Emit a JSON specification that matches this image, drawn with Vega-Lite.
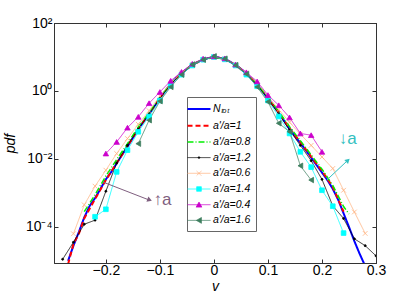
{
"$schema": "https://vega.github.io/schema/vega-lite/v6.json",
"width": 322, "height": 240, "autosize": "none",
"padding": {"left": 54, "top": 23, "right": 39, "bottom": 32},
"config": {
  "font": "Liberation Sans",
  "view": {"stroke": "#333"},
  "axis": {"labelFont": "Liberation Sans", "labelFontSize": 14, "labelColor": "#000", "titleFont": "Liberation Sans", "titleFontSize": 14, "titleFontStyle": "italic", "titleFontWeight": "normal", "titleColor": "#000", "domainColor": "#333", "tickColor": "#333", "grid": false, "tickSize": -4, "labelFlush": false, "labelOverlap": false}
},
"resolve": {"axis": {"x": "independent", "y": "independent"}},
"datasets": {"curves": [
{"series":"Nₜₒₜ","v":-0.27,"pdf":1e-5},{"series":"Nₜₒₜ","v":-0.26,"pdf":2.818e-5},{"series":"Nₜₒₜ","v":-0.25,"pdf":7.079e-5},{"series":"Nₜₒₜ","v":-0.24,"pdf":1.905e-4},{"series":"Nₜₒₜ","v":-0.23,"pdf":4.169e-4},{"series":"Nₜₒₜ","v":-0.22,"pdf":7.079e-4},{"series":"Nₜₒₜ","v":-0.21,"pdf":1.318e-3},{"series":"Nₜₒₜ","v":-0.2,"pdf":2.512e-3},{"series":"Nₜₒₜ","v":-0.19,"pdf":4.169e-3},{"series":"Nₜₒₜ","v":-0.18,"pdf":7.413e-3},{"series":"Nₜₒₜ","v":-0.17,"pdf":0.01318},{"series":"Nₜₒₜ","v":-0.16,"pdf":0.02291},{"series":"Nₜₒₜ","v":-0.15,"pdf":0.04169},{"series":"Nₜₒₜ","v":-0.14,"pdf":0.07586},{"series":"Nₜₒₜ","v":-0.13,"pdf":0.1259},{"series":"Nₜₒₜ","v":-0.12,"pdf":0.2089},{"series":"Nₜₒₜ","v":-0.11,"pdf":0.3548},{"series":"Nₜₒₜ","v":-0.1,"pdf":0.6026},{"series":"Nₜₒₜ","v":-0.09,"pdf":1.0},{"series":"Nₜₒₜ","v":-0.08,"pdf":1.585},{"series":"Nₜₒₜ","v":-0.07,"pdf":2.399},{"series":"Nₜₒₜ","v":-0.06,"pdf":3.311},{"series":"Nₜₒₜ","v":-0.05,"pdf":4.467},{"series":"Nₜₒₜ","v":-0.04,"pdf":5.754},{"series":"Nₜₒₜ","v":-0.03,"pdf":7.079},{"series":"Nₜₒₜ","v":-0.02,"pdf":8.318},{"series":"Nₜₒₜ","v":-0.01,"pdf":9.333},{"series":"Nₜₒₜ","v":0,"pdf":10},{"series":"Nₜₒₜ","v":0.01,"pdf":9.55},{"series":"Nₜₒₜ","v":0.02,"pdf":8.71},{"series":"Nₜₒₜ","v":0.03,"pdf":7.244},{"series":"Nₜₒₜ","v":0.04,"pdf":5.888},{"series":"Nₜₒₜ","v":0.05,"pdf":4.467},{"series":"Nₜₒₜ","v":0.06,"pdf":3.236},{"series":"Nₜₒₜ","v":0.07,"pdf":2.291},{"series":"Nₜₒₜ","v":0.08,"pdf":1.549},{"series":"Nₜₒₜ","v":0.09,"pdf":0.9772},{"series":"Nₜₒₜ","v":0.1,"pdf":0.6026},{"series":"Nₜₒₜ","v":0.11,"pdf":0.3715},{"series":"Nₜₒₜ","v":0.12,"pdf":0.2291},{"series":"Nₜₒₜ","v":0.13,"pdf":0.1318},{"series":"Nₜₒₜ","v":0.14,"pdf":0.07586},{"series":"Nₜₒₜ","v":0.15,"pdf":0.04677},{"series":"Nₜₒₜ","v":0.16,"pdf":0.02951},{"series":"Nₜₒₜ","v":0.17,"pdf":0.0182},{"series":"Nₜₒₜ","v":0.18,"pdf":0.01096},{"series":"Nₜₒₜ","v":0.19,"pdf":6.607e-3},{"series":"Nₜₒₜ","v":0.2,"pdf":3.981e-3},{"series":"Nₜₒₜ","v":0.21,"pdf":2.399e-3},{"series":"Nₜₒₜ","v":0.22,"pdf":1.318e-3},{"series":"Nₜₒₜ","v":0.23,"pdf":6.31e-4},{"series":"Nₜₒₜ","v":0.24,"pdf":2.512e-4},{"series":"Nₜₒₜ","v":0.25,"pdf":1e-4},{"series":"Nₜₒₜ","v":0.26,"pdf":3.802e-5},{"series":"Nₜₒₜ","v":0.27,"pdf":1.585e-5},{"series":"Nₜₒₜ","v":0.28,"pdf":7.079e-6},
{"series":"a'/a=1","v":-0.27,"pdf":7.943e-6},{"series":"a'/a=1","v":-0.26,"pdf":3.162e-5},{"series":"a'/a=1","v":-0.25,"pdf":6.31e-5},{"series":"a'/a=1","v":-0.24,"pdf":1.778e-4},{"series":"a'/a=1","v":-0.22,"pdf":6.607e-4},{"series":"a'/a=1","v":-0.2,"pdf":2.399e-3},{"series":"a'/a=1","v":-0.18,"pdf":7.586e-3},{"series":"a'/a=1","v":-0.16,"pdf":0.02344},{"series":"a'/a=1","v":-0.14,"pdf":0.07762},{"series":"a'/a=1","v":-0.12,"pdf":0.2138},{"series":"a'/a=1","v":-0.1,"pdf":0.6166},{"series":"a'/a=1","v":-0.08,"pdf":1.585},{"series":"a'/a=1","v":-0.06,"pdf":3.311},{"series":"a'/a=1","v":-0.04,"pdf":5.888},{"series":"a'/a=1","v":-0.02,"pdf":8.318},{"series":"a'/a=1","v":0,"pdf":10},{"series":"a'/a=1","v":0.02,"pdf":8.71},{"series":"a'/a=1","v":0.04,"pdf":5.888},{"series":"a'/a=1","v":0.06,"pdf":3.236},{"series":"a'/a=1","v":0.08,"pdf":1.549},{"series":"a'/a=1","v":0.1,"pdf":0.6026},{"series":"a'/a=1","v":0.12,"pdf":0.2344},{"series":"a'/a=1","v":0.14,"pdf":0.07943},{"series":"a'/a=1","v":0.16,"pdf":0.03162},{"series":"a'/a=1","v":0.18,"pdf":0.01175},{"series":"a'/a=1","v":0.2,"pdf":4.467e-3},{"series":"a'/a=1","v":0.22,"pdf":1.514e-3},{"series":"a'/a=1","v":0.24,"pdf":2.818e-4},
{"series":"a'/a=0.8","v":-0.24,"pdf":2.818e-4},{"series":"a'/a=0.8","v":-0.22,"pdf":8.913e-4},{"series":"a'/a=0.8","v":-0.2,"pdf":3.162e-3},{"series":"a'/a=0.8","v":-0.18,"pdf":9.55e-3},{"series":"a'/a=0.8","v":-0.16,"pdf":0.02818},{"series":"a'/a=0.8","v":-0.14,"pdf":0.0871},{"series":"a'/a=0.8","v":-0.12,"pdf":0.2291},{"series":"a'/a=0.8","v":-0.1,"pdf":0.6457},{"series":"a'/a=0.8","v":-0.08,"pdf":1.66},{"series":"a'/a=0.8","v":-0.06,"pdf":3.388},{"series":"a'/a=0.8","v":-0.04,"pdf":6.026},{"series":"a'/a=0.8","v":-0.02,"pdf":8.511},{"series":"a'/a=0.8","v":0,"pdf":10},{"series":"a'/a=0.8","v":0.02,"pdf":8.71},{"series":"a'/a=0.8","v":0.04,"pdf":6.026},{"series":"a'/a=0.8","v":0.06,"pdf":3.311},{"series":"a'/a=0.8","v":0.08,"pdf":1.622},{"series":"a'/a=0.8","v":0.1,"pdf":0.631},{"series":"a'/a=0.8","v":0.12,"pdf":0.2512},{"series":"a'/a=0.8","v":0.14,"pdf":0.08913},{"series":"a'/a=0.8","v":0.16,"pdf":0.03467},{"series":"a'/a=0.8","v":0.18,"pdf":0.01318},{"series":"a'/a=0.8","v":0.2,"pdf":5.012e-3},{"series":"a'/a=0.8","v":0.22,"pdf":1.66e-3},{"series":"a'/a=0.8","v":0.24,"pdf":3.981e-4},{"series":"a'/a=0.8","v":0.25,"pdf":2.399e-4},
{"series":"a'/a=1.2","v":-0.28,"pdf":1.122e-5},{"series":"a'/a=1.2","v":-0.26,"pdf":3.548e-5},{"series":"a'/a=1.2","v":-0.24,"pdf":1.202e-4},{"series":"a'/a=1.2","v":-0.22,"pdf":1.585e-4},{"series":"a'/a=1.2","v":-0.2,"pdf":1.122e-3},{"series":"a'/a=1.2","v":-0.18,"pdf":7.586e-3},{"series":"a'/a=1.2","v":-0.16,"pdf":0.02512},{"series":"a'/a=1.2","v":-0.14,"pdf":0.07586},{"series":"a'/a=1.2","v":-0.12,"pdf":0.2089},{"series":"a'/a=1.2","v":-0.1,"pdf":0.6026},{"series":"a'/a=1.2","v":-0.08,"pdf":1.585},{"series":"a'/a=1.2","v":-0.06,"pdf":3.236},{"series":"a'/a=1.2","v":-0.04,"pdf":5.754},{"series":"a'/a=1.2","v":-0.02,"pdf":8.318},{"series":"a'/a=1.2","v":0,"pdf":10},{"series":"a'/a=1.2","v":0.02,"pdf":8.71},{"series":"a'/a=1.2","v":0.04,"pdf":5.754},{"series":"a'/a=1.2","v":0.06,"pdf":3.162},{"series":"a'/a=1.2","v":0.08,"pdf":1.514},{"series":"a'/a=1.2","v":0.1,"pdf":0.5754},{"series":"a'/a=1.2","v":0.12,"pdf":0.2089},{"series":"a'/a=1.2","v":0.14,"pdf":0.07079},{"series":"a'/a=1.2","v":0.16,"pdf":0.02512},{"series":"a'/a=1.2","v":0.18,"pdf":8.913e-3},{"series":"a'/a=1.2","v":0.2,"pdf":2.512e-3},{"series":"a'/a=1.2","v":0.22,"pdf":4.169e-4},{"series":"a'/a=1.2","v":0.24,"pdf":1.778e-4},{"series":"a'/a=1.2","v":0.26,"pdf":4.467e-5},{"series":"a'/a=1.2","v":0.28,"pdf":2.818e-5},{"series":"a'/a=1.2","v":0.3,"pdf":1.413e-5},
{"series":"a'/a=0.6","v":-0.26,"pdf":6.31e-5},{"series":"a'/a=0.6","v":-0.24,"pdf":4.467e-4},{"series":"a'/a=0.6","v":-0.22,"pdf":1.585e-3},{"series":"a'/a=0.6","v":-0.2,"pdf":4.677e-3},{"series":"a'/a=0.6","v":-0.18,"pdf":0.01445},{"series":"a'/a=0.6","v":-0.16,"pdf":0.03981},{"series":"a'/a=0.6","v":-0.14,"pdf":0.1047},{"series":"a'/a=0.6","v":-0.12,"pdf":0.263},{"series":"a'/a=0.6","v":-0.1,"pdf":0.7079},{"series":"a'/a=0.6","v":-0.08,"pdf":1.698},{"series":"a'/a=0.6","v":-0.06,"pdf":3.388},{"series":"a'/a=0.6","v":-0.04,"pdf":6.026},{"series":"a'/a=0.6","v":-0.02,"pdf":8.511},{"series":"a'/a=0.6","v":0,"pdf":10},{"series":"a'/a=0.6","v":0.02,"pdf":8.913},{"series":"a'/a=0.6","v":0.04,"pdf":6.026},{"series":"a'/a=0.6","v":0.06,"pdf":3.388},{"series":"a'/a=0.6","v":0.08,"pdf":1.698},{"series":"a'/a=0.6","v":0.1,"pdf":0.7079},{"series":"a'/a=0.6","v":0.12,"pdf":0.2818},{"series":"a'/a=0.6","v":0.14,"pdf":0.1202},{"series":"a'/a=0.6","v":0.16,"pdf":0.0537},{"series":"a'/a=0.6","v":0.18,"pdf":0.02512},{"series":"a'/a=0.6","v":0.2,"pdf":0.01148},{"series":"a'/a=0.6","v":0.22,"pdf":5.248e-3},{"series":"a'/a=0.6","v":0.24,"pdf":1.202e-3},{"series":"a'/a=0.6","v":0.26,"pdf":2.754e-4},{"series":"a'/a=0.6","v":0.28,"pdf":6.457e-5},
{"series":"a'/a=1.4","v":-0.22,"pdf":1.995e-4},{"series":"a'/a=1.4","v":-0.2,"pdf":3.311e-4},{"series":"a'/a=1.4","v":-0.18,"pdf":4.169e-3},{"series":"a'/a=1.4","v":-0.16,"pdf":0.0182},{"series":"a'/a=1.4","v":-0.14,"pdf":0.0631},{"series":"a'/a=1.4","v":-0.12,"pdf":0.1778},{"series":"a'/a=1.4","v":-0.1,"pdf":0.5248},{"series":"a'/a=1.4","v":-0.08,"pdf":1.413},{"series":"a'/a=1.4","v":-0.06,"pdf":3.02},{"series":"a'/a=1.4","v":-0.04,"pdf":5.623},{"series":"a'/a=1.4","v":-0.02,"pdf":8.318},{"series":"a'/a=1.4","v":0,"pdf":10},{"series":"a'/a=1.4","v":0.02,"pdf":8.511},{"series":"a'/a=1.4","v":0.04,"pdf":5.623},{"series":"a'/a=1.4","v":0.06,"pdf":3.02},{"series":"a'/a=1.4","v":0.08,"pdf":1.38},{"series":"a'/a=1.4","v":0.1,"pdf":0.5248},{"series":"a'/a=1.4","v":0.12,"pdf":0.1778},{"series":"a'/a=1.4","v":0.14,"pdf":0.05623},{"series":"a'/a=1.4","v":0.16,"pdf":0.01622},{"series":"a'/a=1.4","v":0.18,"pdf":5.754e-3},{"series":"a'/a=1.4","v":0.2,"pdf":1.202e-3},{"series":"a'/a=1.4","v":0.22,"pdf":4.074e-4},{"series":"a'/a=1.4","v":0.24,"pdf":6.607e-5},
{"series":"a'/a=0.4","v":-0.2,"pdf":0.01445},{"series":"a'/a=0.4","v":-0.18,"pdf":0.03162},{"series":"a'/a=0.4","v":-0.16,"pdf":0.08318},{"series":"a'/a=0.4","v":-0.14,"pdf":0.1738},{"series":"a'/a=0.4","v":-0.12,"pdf":0.4365},{"series":"a'/a=0.4","v":-0.1,"pdf":0.9333},{"series":"a'/a=0.4","v":-0.08,"pdf":1.995},{"series":"a'/a=0.4","v":-0.06,"pdf":3.631},{"series":"a'/a=0.4","v":-0.04,"pdf":6.31},{"series":"a'/a=0.4","v":-0.02,"pdf":8.913},{"series":"a'/a=0.4","v":0,"pdf":10.47},{"series":"a'/a=0.4","v":0.02,"pdf":9.12},{"series":"a'/a=0.4","v":0.04,"pdf":6.026},{"series":"a'/a=0.4","v":0.06,"pdf":3.548},{"series":"a'/a=0.4","v":0.08,"pdf":1.905},{"series":"a'/a=0.4","v":0.1,"pdf":0.7586},{"series":"a'/a=0.4","v":0.12,"pdf":0.3802},{"series":"a'/a=0.4","v":0.14,"pdf":0.166},{"series":"a'/a=0.4","v":0.16,"pdf":0.05623},{"series":"a'/a=0.4","v":0.18,"pdf":0.05012},{"series":"a'/a=0.4","v":0.2,"pdf":0.01622},
{"series":"a'/a=1.6","v":-0.14,"pdf":0.02818},{"series":"a'/a=1.6","v":-0.12,"pdf":0.138},{"series":"a'/a=1.6","v":-0.1,"pdf":0.5012},{"series":"a'/a=1.6","v":-0.08,"pdf":1.318},{"series":"a'/a=1.6","v":-0.06,"pdf":3.02},{"series":"a'/a=1.6","v":-0.04,"pdf":6.026},{"series":"a'/a=1.6","v":-0.02,"pdf":8.318},{"series":"a'/a=1.6","v":0,"pdf":10.47},{"series":"a'/a=1.6","v":0.02,"pdf":8.913},{"series":"a'/a=1.6","v":0.04,"pdf":5.754},{"series":"a'/a=1.6","v":0.06,"pdf":3.162},{"series":"a'/a=1.6","v":0.08,"pdf":1.318},{"series":"a'/a=1.6","v":0.1,"pdf":0.4786},{"series":"a'/a=1.6","v":0.12,"pdf":0.1122},{"series":"a'/a=1.6","v":0.14,"pdf":0.0631},{"series":"a'/a=1.6","v":0.16,"pdf":6.31e-3},{"series":"a'/a=1.6","v":0.18,"pdf":2.399e-3}
]},
"layer": [
  {
    "data": {"name": "curves"},
    "mark": {"type": "line", "clip": true},
    "encoding": {
      "x": {"field": "v", "type": "quantitative", "scale": {"domain": [-0.296, 0.3], "nice": false, "zero": false},
            "axis": {"orient": "bottom", "values": [-0.2, -0.1, 0, 0.1, 0.2, 0.3], "format": "~g", "title": "v", "labelPadding": 4, "titlePadding": 2}},
      "y": {"field": "pdf", "type": "quantitative", "scale": {"type": "log", "domain": [8.7e-6, 100], "nice": false},
            "axis": {"orient": "left", "values": [0.0001, 0.01, 1, 100], "title": "pdf", "labelPadding": 6, "titlePadding": 8,
                     "labelExpr": "datum.value >= 50 ? '10²' : datum.value >= 0.5 ? '10⁰' : datum.value >= 0.005 ? '10⁻²' : '10⁻⁴'"}},
      "color": {"field": "series", "type": "nominal",
        "scale": {"domain": ["Nₜₒₜ", "a'/a=1", "a'/a=0.8", "a'/a=1.2", "a'/a=0.6", "a'/a=1.4", "a'/a=0.4", "a'/a=1.6"],
                  "range": ["#0000ff", "#ff0000", "#00ee00", "#000000", "#ffb380", "#00ffff", "#cc00cc", "#3f7f5f"]},
        "legend": {"orient": "none", "legendX": 133, "legendY": 74, "title": null, "padding": 5,
          "strokeColor": "#666", "fillColor": "#ffffff",
          "labelFont": "Liberation Sans", "labelFontSize": 10.5, "labelFontStyle": "italic", "labelColor": "#000",
          "symbolType": "M-2,0H2", "symbolSize": 132, "symbolStrokeWidth": 1, "rowPadding": 3.7, "labelOffset": 7,
          "encode": {"symbols": {"update": {
            "shape": {"signal": "['M-2,0H2','M-2,0H2','M-2,0H2','M-2,0H2M-0.15,0a0.15,0.15 0 1,0 0.3,0a0.15,0.15 0 1,0 -0.3,0','M-2,0H2M-0.4,-0.4L0.4,0.4M-0.4,0.4L0.4,-0.4','M-2,0H2M-0.4,-0.4H0.4V0.4H-0.4Z','M-2,0H2M-0.5,0.42L0,-0.45L0.5,0.42Z','M-2,0H2M-0.45,0L0.42,-0.5L0.42,0.5Z'][indexof(domain('color'), datum.value)]"},
            "fill": {"scale": "color", "field": "value"},
            "strokeWidth": {"signal": "[2,2,1.5,0.8,0.8,0.8,0.8,0.8][indexof(domain('color'), datum.value)]"},
            "opacity": {"value": 1}
          }}}}},
      "strokeDash": {"field": "series", "type": "nominal",
        "scale": {"domain": ["Nₜₒₜ", "a'/a=1", "a'/a=0.8", "a'/a=1.2", "a'/a=0.6", "a'/a=1.4", "a'/a=0.4", "a'/a=1.6"],
                  "range": [[1, 0], [5, 3], [6, 2, 1, 2], [1, 0], [1, 0], [1, 0], [1, 0], [1, 0]]}},
      "strokeWidth": {"field": "series", "type": "nominal", "legend": null,
        "scale": {"type": "ordinal", "domain": ["Nₜₒₜ", "a'/a=1", "a'/a=0.8", "a'/a=1.2", "a'/a=0.6", "a'/a=1.4", "a'/a=0.4", "a'/a=1.6"],
                  "range": [2, 2, 1.5, 0.8, 0.8, 0.8, 0.8, 0.8]}}
    }
  },
  {
    "data": {"name": "curves"},
    "transform": [{"filter": {"field": "series", "oneOf": ["a'/a=1.2", "a'/a=0.6", "a'/a=1.4", "a'/a=0.4", "a'/a=1.6"]}}],
    "mark": {"type": "point", "filled": true, "strokeWidth": 0.8, "opacity": 1, "clip": true},
    "encoding": {
      "x": {"field": "v", "type": "quantitative", "scale": {"domain": [-0.296, 0.3], "nice": false, "zero": false},
            "axis": {"orient": "top", "values": [-0.2, -0.1, 0, 0.1, 0.2, 0.3], "labels": false, "title": null}},
      "y": {"field": "pdf", "type": "quantitative", "scale": {"type": "log", "domain": [8.7e-6, 100], "nice": false},
            "axis": {"orient": "right", "values": [0.0001, 0.01, 1, 100], "labels": false, "title": null}},
      "color": {"field": "series", "type": "nominal", "legend": null,
        "scale": {"domain": ["Nₜₒₜ", "a'/a=1", "a'/a=0.8", "a'/a=1.2", "a'/a=0.6", "a'/a=1.4", "a'/a=0.4", "a'/a=1.6"],
                  "range": ["#0000ff", "#ff0000", "#00ee00", "#000000", "#ffb380", "#00ffff", "#cc00cc", "#3f7f5f"]}},
      "stroke": {"field": "series", "type": "nominal", "legend": null,
        "scale": {"domain": ["a'/a=1.2", "a'/a=0.6", "a'/a=1.4", "a'/a=0.4", "a'/a=1.6"],
                  "range": ["#000000", "#ffb380", "#00ffff", "#cc00cc", "#3f7f5f"]}},
      "shape": {"field": "series", "type": "nominal", "legend": null,
        "scale": {"domain": ["a'/a=1.2", "a'/a=0.6", "a'/a=1.4", "a'/a=0.4", "a'/a=1.6"],
                  "range": ["circle", "M-1,-1L1,1M-1,1L1,-1", "square", "triangle-up", "triangle-left"]}},
      "size": {"field": "series", "type": "nominal", "legend": null,
        "scale": {"type": "ordinal", "domain": ["a'/a=1.2", "a'/a=0.6", "a'/a=1.4", "a'/a=0.4", "a'/a=1.6"],
                  "range": [4, 22, 22, 30, 30]}}
    }
  },
  {
    "data": {"values": [{"v": -0.2056, "pdf": 2.1e-3, "v2": -0.121, "pdf2": 6.3e-4}]},
    "mark": {"type": "rule", "color": "#7f5f7f", "strokeWidth": 1},
    "encoding": {
      "x": {"field": "v", "type": "quantitative", "axis": null}, "y": {"field": "pdf", "type": "quantitative", "axis": null},
      "x2": {"field": "v2"}, "y2": {"field": "pdf2"}
    }
  },
  {
    "data": {"values": [{"v": -0.119, "pdf": 6.2e-4}]},
    "mark": {"type": "point", "shape": "triangle-right", "angle": 21, "size": 30, "filled": true, "color": "#7f5f7f", "opacity": 1},
    "encoding": {"x": {"field": "v", "type": "quantitative", "axis": null}, "y": {"field": "pdf", "type": "quantitative", "axis": null}}
  },
  {
    "data": {"values": [{"v": -0.112, "pdf": 6.2e-4, "label": "↑a"}]},
    "mark": {"type": "text", "align": "left", "baseline": "middle", "fontSize": 17, "font": "Liberation Sans", "color": "#7f5f7f"},
    "encoding": {"x": {"field": "v", "type": "quantitative", "axis": null}, "y": {"field": "pdf", "type": "quantitative", "axis": null}, "text": {"field": "label"}}
  },
  {
    "data": {"values": [{"v": 0.209, "pdf": 2.4e-3, "v2": 0.246, "pdf2": 8.6e-3}]},
    "mark": {"type": "rule", "color": "#33c0c0", "strokeWidth": 1},
    "encoding": {
      "x": {"field": "v", "type": "quantitative", "axis": null}, "y": {"field": "pdf", "type": "quantitative", "axis": null},
      "x2": {"field": "v2"}, "y2": {"field": "pdf2"}
    }
  },
  {
    "data": {"values": [{"v": 0.248, "pdf": 9.1e-3}]},
    "mark": {"type": "point", "shape": "triangle-right", "angle": 317, "size": 30, "filled": true, "color": "#33c0c0", "opacity": 1},
    "encoding": {"x": {"field": "v", "type": "quantitative", "axis": null}, "y": {"field": "pdf", "type": "quantitative", "axis": null}}
  },
  {
    "data": {"values": [{"v": 0.231, "pdf": 0.038, "label": "↓a"}]},
    "mark": {"type": "text", "align": "left", "baseline": "middle", "fontSize": 17, "font": "Liberation Sans", "color": "#33c0c0"},
    "encoding": {"x": {"field": "v", "type": "quantitative", "axis": null}, "y": {"field": "pdf", "type": "quantitative", "axis": null}, "text": {"field": "label"}}
  }
]
}
